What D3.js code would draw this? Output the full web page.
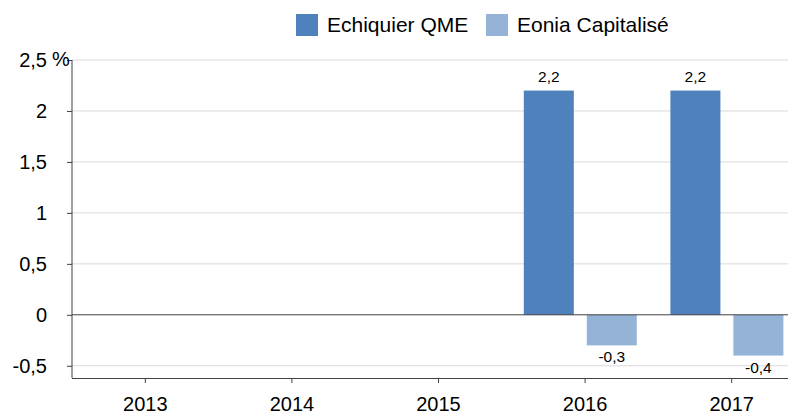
<!DOCTYPE html>
<html>
<head>
<meta charset="utf-8">
<script src="https://cdn.jsdelivr.net/npm/d3@7"></script>
<style>
  body { margin: 0; background: #fff; }
  svg { display: block; overflow: hidden; }
  text { font-family: "Liberation Sans", Arial, sans-serif; fill: #000; }
</style>
</head>
<body>
<div id="chart-root"></div>
<script>
// data
var years = ["2013", "2014", "2015", "2016", "2017"];
var seriesNames = ["Echiquier QME", "Eonia Capitalisé"];
var echiquier = [null, null, null, 2.2, 2.2];
var eonia = [null, null, null, -0.3, -0.4];
var yTicks = [-0.5, 0, 0.5, 1, 1.5, 2, 2.5];
var colors = ["#4f81bd", "#95b3d7"];

(function () {
  var W = 788, H = 414;
  var margin = { top: 60, left: 72, bottom: 36 };
  var fmt = function (v) { return String(v).replace(".", ","); };

  var svg = d3.select("#chart-root")
    .append("svg")
      .attr("width", W)
      .attr("height", H);

  var y = d3.scaleLinear()
    .domain([-0.62, 2.5])
    .range([H - margin.bottom, margin.top]);

  var x = d3.scaleBand()
    .domain(years)
    .range([margin.left, margin.left + 733]);

  var x1 = d3.scaleBand()
    .domain(seriesNames)
    .range([12, 125])
    .paddingInner(0.206);

  // gridlines
  svg.append("g")
    .selectAll("line")
    .data(yTicks.filter(function (d) { return d !== 0; }))
    .enter().append("line")
      .attr("x1", margin.left).attr("x2", W)
      .attr("y1", function (d) { return y(d); })
      .attr("y2", function (d) { return y(d); })
      .attr("stroke", "#d9d9d9")
      .attr("stroke-width", 1);

  // bars
  var rows = years.map(function (yr, i) {
    return { year: yr, values: [echiquier[i], eonia[i]] };
  });
  var groups = svg.append("g")
    .selectAll("g")
    .data(rows)
    .enter().append("g")
      .attr("transform", function (d) { return "translate(" + x(d.year) + ",0)"; });

  var cells = groups.selectAll("g")
    .data(function (d) {
      return d.values.map(function (v, j) { return { name: seriesNames[j], v: v, j: j }; })
        .filter(function (c) { return c.v != null; });
    })
    .enter().append("g");

  cells.append("rect")
    .attr("x", function (d) { return x1(d.name); })
    .attr("width", x1.bandwidth())
    .attr("y", function (d) { return y(Math.max(0, d.v)); })
    .attr("height", function (d) { return Math.abs(y(d.v) - y(0)); })
    .attr("fill", function (d) { return colors[d.j]; });

  cells.append("text")
    .attr("x", function (d) { return x1(d.name) + x1.bandwidth() / 2; })
    .attr("y", function (d) { return d.v >= 0 ? y(d.v) - 9 : y(d.v) + 17; })
    .attr("text-anchor", "middle")
    .style("font-size", "15.5px")
    .text(function (d) { return fmt(d.v); });

  // zero line
  svg.append("line")
    .attr("x1", margin.left).attr("x2", W)
    .attr("y1", y(0)).attr("y2", y(0))
    .attr("stroke", "#404040")
    .attr("stroke-width", 1);

  // y axis
  var yAxis = svg.append("g")
    .attr("transform", "translate(" + margin.left + ",0)")
    .call(d3.axisLeft(y).tickValues(yTicks).tickSize(5).tickFormat(fmt));
  yAxis.select(".domain")
    .attr("d", "M0," + y.range()[1] + "V" + y.range()[0])
    .attr("stroke", "#404040");
  yAxis.selectAll(".tick line").attr("stroke", "#404040");
  yAxis.selectAll(".tick text")
    .attr("x", -25)
    .style("font-size", "20px")
    .style("font-family", "'Liberation Sans', Arial, sans-serif")
    .attr("fill", "#000");
  yAxis.append("text")
    .attr("x", -20)
    .attr("y", y(2.5))
    .attr("dy", "0.32em")
    .attr("text-anchor", "start")
    .attr("fill", "#000")
    .style("font-size", "20px")
    .style("font-family", "'Liberation Sans', Arial, sans-serif")
    .text("%");

  // x axis
  var xAxis = svg.append("g")
    .attr("transform", "translate(0," + (H - margin.bottom) + ")")
    .call(d3.axisBottom(x).tickSize(5).tickSizeOuter(0));
  xAxis.select(".domain")
    .attr("d", "M" + margin.left + ",0.5H" + W)
    .attr("stroke", "#404040");
  xAxis.selectAll(".tick line").attr("stroke", "#404040");
  xAxis.selectAll(".tick text")
    .attr("y", 19)
    .style("font-size", "20px")
    .style("font-family", "'Liberation Sans', Arial, sans-serif")
    .attr("fill", "#000");

  // legend
  var legend = svg.append("g");
  var legendX = [296, 486];
  seriesNames.forEach(function (name, i) {
    legend.append("rect")
      .attr("x", legendX[i]).attr("y", 14)
      .attr("width", 22).attr("height", 22)
      .attr("fill", colors[i]);
    legend.append("text")
      .attr("x", legendX[i] + 31).attr("y", 25)
      .attr("dy", "0.35em")
      .style("font-size", "21px")
      .text(name);
  });
})();
</script>
</body>
</html>
